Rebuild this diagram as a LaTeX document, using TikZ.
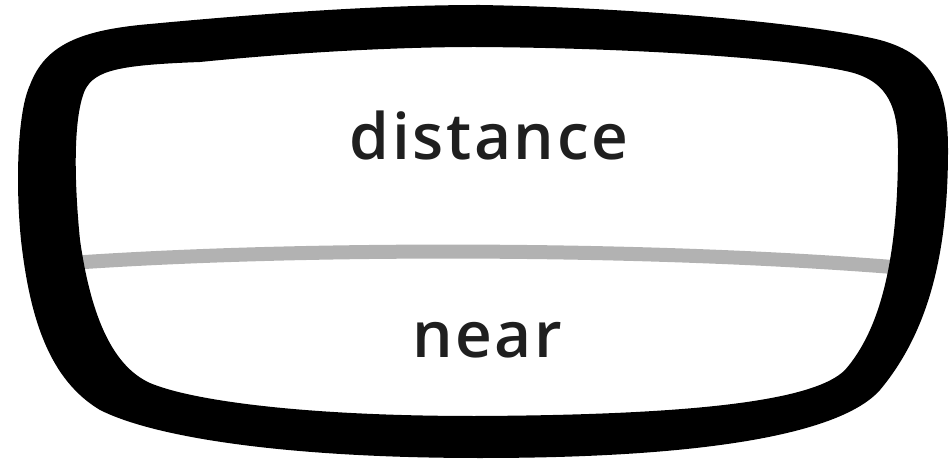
\documentclass[tikz,border=0pt]{standalone}
\usepackage{fontspec}
\setmainfont{Open Sans}
\newfontfamily\lensfont[LetterSpace=4]{Open Sans Semibold}
\usepackage{tikz}

\begin{document}
\begin{tikzpicture}[
  x=1pt, y=-1pt,
  rim/.style={fill=black, even odd rule},
  split/.style={draw=black!30, line width=14pt},
  lbl/.style={anchor=base, text=black!88, font=\lensfont\fontsize{64}{72}\selectfont}
]
  \useasboundingbox (0,0) rectangle (950,462);
  % dividing line between the two zones
  \draw[split] (70,263) .. controls (300,247) and (650,247) .. (905,268);
  % frame: outer edge, then inner edge
  \fill[rim]
    (480,5) .. controls (650,8) and (820,25) .. (880,40)
    .. controls (935,55) and (948,90) .. (948,150)
    .. controls (948,250) and (930,330) .. (880,390)
    .. controls (840,435) and (700,458) .. (480,458)
    .. controls (300,458) and (160,440) .. (100,410)
    .. controls (50,380) and (30,320) .. (21,240)
    .. controls (15,180) and (18,110) .. (30,85)
    .. controls (45,45) and (80,30) .. (150,24)
    .. controls (300,10) and (400,5) .. (480,5) -- cycle
    (475,47) .. controls (650,48) and (800,60) .. (850,72)
    .. controls (890,82) and (898,110) .. (898,150)
    .. controls (898,260) and (880,330) .. (845,370)
    .. controls (815,400) and (700,415) .. (475,416)
    .. controls (300,416) and (190,400) .. (150,383)
    .. controls (110,365) and (90,310) .. (80,240)
    .. controls (75,190) and (72,120) .. (85,90)
    .. controls (95,70) and (120,65) .. (200,62)
    .. controls (300,52) and (400,47) .. (475,47) -- cycle;
  \node[lbl] (distance) at (489,160) {distance};
  \node[lbl] (near) at (487,357) {near};
\end{tikzpicture}
\end{document}
